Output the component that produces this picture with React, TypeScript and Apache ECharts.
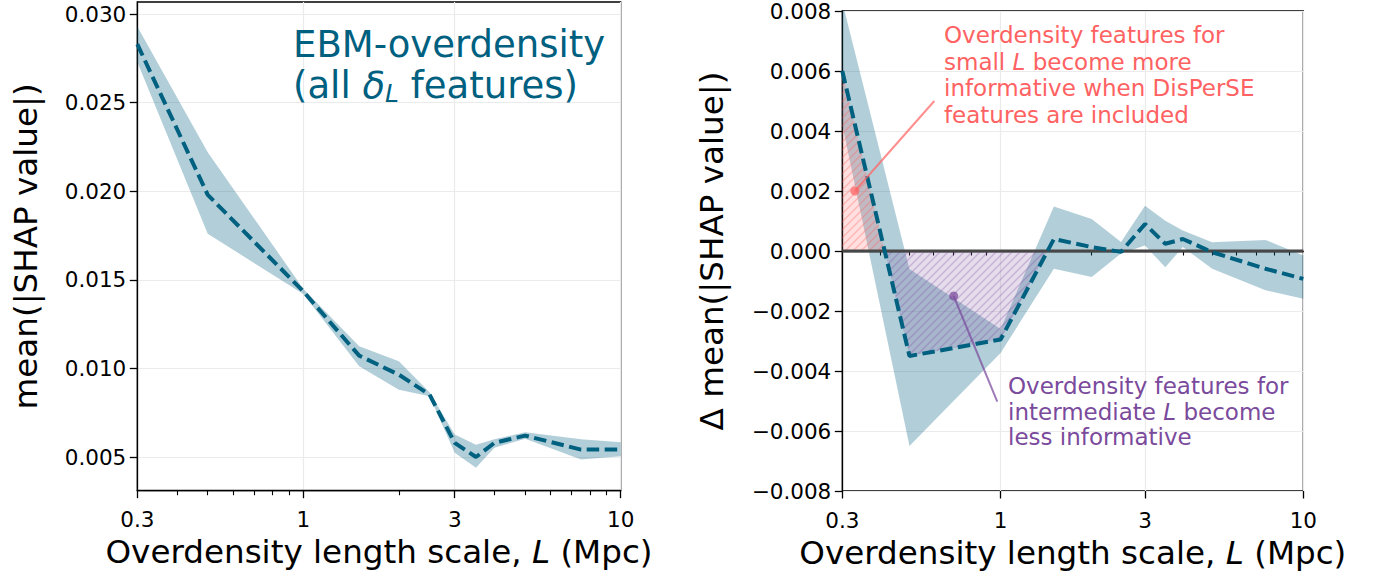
import React, { useEffect, useRef } from 'react';
import * as echarts from 'echarts';

// ---------- data ----------
const L = [0.3, 0.5, 1, 1.5, 2, 2.5, 3, 3.5, 4, 5, 7.5, 10];

const leftMean = [0.0283, 0.0198, 0.01435, 0.01072, 0.00965, 0.00852, 0.0058, 0.005, 0.0058, 0.00621, 0.00542, 0.00542];
const leftUpper = [0.0293, 0.0222, 0.0145, 0.01125, 0.0104, 0.00865, 0.00627, 0.0057, 0.006, 0.0064, 0.006, 0.00583];
const leftLower = [0.0273, 0.0176, 0.0142, 0.01012, 0.0088, 0.00843, 0.00524, 0.00439, 0.00552, 0.00603, 0.00486, 0.00505];

const rightMean = [0.006, -0.0035, -0.00295, 0.0004, 0.00013, -0.00003, 0.0009, 0.00024, 0.0004, -0.00004, -0.00059, -0.00093];
const rightUpper = [0.0083, -0.0006, -0.0026, 0.00148, 0.00107, 0.0003, 0.00151, 0.00101, 0.00068, 0.00029, 0.00037, -0.00015];
const rightLower = [0.0042, -0.0065, -0.0034, -0.00059, -0.00087, -0.00008, 0.00018, -0.00054, 0.00013, -0.00059, -0.00131, -0.00159];

const xMajorTicks = [0.3, 1, 3, 10];
const xMinorTicks = [0.4, 0.5, 0.6, 0.7, 0.8, 0.9, 2, 4, 5, 6, 7, 8, 9];
const yLeftTicks = [0.005, 0.01, 0.015, 0.02, 0.025, 0.03];
const yLeftRange = [0.0031, 0.03068];
const yRightRange = [-0.008, 0.008];
const yRightStep = 0.002;

// annotation connectors: [from (text side), to (dot)] in data coords
const redConnector = [[0.604, 0.005], [0.33, 0.002]];
const purpleConnector = [[0.975, -0.00502], [0.7, -0.0015]];

const leftTitle = 'EBM-overdensity\n(all {d|δ}{s|L} features)';
const redNote = 'Overdensity features for\nsmall {i|L} become more\ninformative when DisPerSE\nfeatures are included';
const purpleNote = 'Overdensity features for\nintermediate {i|L} become\nless informative';

// ---------- styles ----------
const FONT = 'DejaVu Sans';
const TEAL = '#006080';
const BAND = 'rgba(0,96,128,0.3)';
const RED = '#ff6262';
const PURPLE = '#7a4a9c';
const GRID_LINE = '#ebebeb';
const TICK_FS = 21.5;
const NAME_FS = 32.6;
const NOTE_FS = 23;
const TITLE_FS = 37;

function hatch(base: string, stripe: string): any {
  try {
    const c = document.createElement('canvas');
    c.width = 8;
    c.height = 8;
    const ctx = c.getContext('2d');
    if (!ctx) return base;
    ctx.fillStyle = base;
    ctx.fillRect(0, 0, 8, 8);
    ctx.strokeStyle = stripe;
    ctx.lineWidth = 1.4;
    ctx.beginPath();
    ctx.moveTo(-2, 10); ctx.lineTo(10, -2);
    ctx.moveTo(-6, 6); ctx.lineTo(6, -6);
    ctx.moveTo(2, 14); ctx.lineTo(14, 2);
    ctx.stroke();
    return { image: c.toDataURL(), repeat: 'repeat', imageWidth: 8, imageHeight: 8 };
  } catch (e) {
    return base;
  }
}

function signedPieces(xs: number[], ys: number[], positive: boolean): number[][][] {
  const pieces: number[][][] = [];
  let cur: number[][] | null = null;
  const ok = (v: number) => (positive ? v > 0 : v < 0);
  for (let i = 0; i < xs.length; i++) {
    const inside = ok(ys[i]);
    if (i > 0 && ok(ys[i - 1]) !== inside) {
      const t = ys[i - 1] / (ys[i - 1] - ys[i]);
      const lx = Math.log10(xs[i - 1]) + t * (Math.log10(xs[i]) - Math.log10(xs[i - 1]));
      const xc = Math.pow(10, lx);
      if (inside) {
        cur = [[xc, 0]];
      } else if (cur) {
        cur.push([xc, 0]);
        pieces.push(cur);
        cur = null;
      }
    }
    if (inside) {
      if (!cur) cur = [[xs[i], 0]];
      cur.push([xs[i], ys[i]]);
    }
  }
  if (cur) {
    cur.push([xs[xs.length - 1], 0]);
    pieces.push(cur);
  }
  return pieces;
}

function bandPoly(upper: number[], lower: number[]): number[][] {
  const top = L.map((x, i) => [x, upper[i]]);
  const bot = L.map((x, i) => [x, lower[i]]).reverse();
  return top.concat(bot);
}

function polySeries(xIdx: number, yIdx: number, anchorY: number, polys: number[][][], style: any, z: number) {
  return {
    type: 'custom',
    xAxisIndex: xIdx,
    yAxisIndex: yIdx,
    clip: true,
    silent: true,
    z,
    data: [[L[0], anchorY]],
    renderItem: (params: any, api: any) => ({
      type: 'group',
      children: polys.map((poly) => ({
        type: 'polygon',
        shape: { points: poly.map((p) => api.coord(p)) },
        style,
      })),
    }),
  };
}

function connectorSeries(xIdx: number, yIdx: number, conn: number[][], color: string) {
  return {
    type: 'custom',
    xAxisIndex: xIdx,
    yAxisIndex: yIdx,
    silent: true,
    z: 10,
    data: [conn[1]],
    renderItem: (params: any, api: any) => {
      const a = api.coord(conn[0]);
      const b = api.coord(conn[1]);
      return {
        type: 'group',
        children: [
          { type: 'line', shape: { x1: a[0], y1: a[1], x2: b[0], y2: b[1] }, style: { stroke: color, lineWidth: 2 } },
          { type: 'circle', shape: { cx: b[0], cy: b[1], r: 4.5 }, style: { fill: color } },
        ],
      };
    },
  };
}

const axisLineStyle = { color: '#000', width: 1.3 };
const tickText = { fontFamily: FONT, fontSize: TICK_FS, color: '#000' };
const nameText = {
  fontFamily: FONT,
  fontSize: NAME_FS,
  color: '#000',
  rich: { i: { fontFamily: FONT, fontSize: NAME_FS, fontStyle: 'italic', color: '#000' } },
};
const fmtX = (v: number) => String(+(+v).toPrecision(3));

function xAxesFor(grid: number) {
  return [
    {
      gridIndex: grid,
      type: 'log',
      logBase: 10,
      min: 0.3,
      max: 10,
      position: 'bottom',
      axisLine: { show: true, lineStyle: axisLineStyle },
      axisTick: { show: true, length: 4.5, lineStyle: { color: '#000', width: 1.1 }, customValues: xMinorTicks },
      axisLabel: { show: false },
      splitLine: { show: false },
      minorTick: { show: false },
    },
    {
      gridIndex: grid,
      type: 'log',
      logBase: 10,
      min: 0.3,
      max: 10,
      position: 'bottom',
      axisLine: { show: false },
      axisTick: { show: true, length: 7.5, lineStyle: { color: '#000', width: 1.3 }, customValues: xMajorTicks },
      axisLabel: { show: true, customValues: xMajorTicks, formatter: fmtX, margin: 18, ...tickText },
      splitLine: { show: true, lineStyle: { color: GRID_LINE, width: 1.2 } },
      minorTick: { show: false },
      name: 'Overdensity length scale, {i|L} (Mpc)',
      nameLocation: 'middle',
      nameGap: 45,
      nameTextStyle: nameText,
    },
  ];
}

export default function App() {
  const ref = useRef<HTMLDivElement>(null);
  useEffect(() => {
    if (!ref.current) return;
    const chart = echarts.init(ref.current, undefined, { renderer: 'svg' });

    const pinkPolys = signedPieces(L, rightMean, true).slice(0, 1);
    const purplePolys = signedPieces(L, rightMean, false).slice(0, 1);

    const option: any = {
      animation: false,
      backgroundColor: '#fff',
      textStyle: { fontFamily: FONT },
      grid: [
        { left: 137.3, top: 2, width: 483.4, height: 488.7, show: true, borderColor: '#000', borderWidth: 1.3, backgroundColor: 'transparent' },
        { left: 842.3, top: 10, width: 461, height: 481, show: true, borderColor: '#000', borderWidth: 1.3, backgroundColor: 'transparent' },
      ],
      xAxis: [...xAxesFor(0), ...xAxesFor(1)],
      yAxis: [
        {
          gridIndex: 0,
          type: 'value',
          min: yLeftRange[0],
          max: yLeftRange[1],
          position: 'left',
          axisLine: { show: true, lineStyle: axisLineStyle },
          axisTick: { show: true, length: 7.5, lineStyle: { color: '#000', width: 1.3 }, customValues: yLeftTicks },
          axisLabel: { customValues: yLeftTicks, formatter: (v: number) => (+v).toFixed(3), margin: 11, ...tickText },
          splitLine: { show: true, lineStyle: { color: GRID_LINE, width: 1.2 } },
          name: 'mean(|SHAP value|)',
          nameLocation: 'middle',
          nameGap: 95,
          nameTextStyle: nameText,
        },
        {
          gridIndex: 1,
          type: 'value',
          min: yRightRange[0],
          max: yRightRange[1],
          interval: yRightStep,
          position: 'left',
          axisLine: { show: true, lineStyle: axisLineStyle },
          axisTick: { show: true, length: 7.5, lineStyle: { color: '#000', width: 1.3 } },
          axisLabel: {
            formatter: (v: number) => (v < -1e-12 ? '\u2212' : '') + Math.abs(v).toFixed(3),
            margin: 11,
            ...tickText,
          },
          splitLine: { show: true, lineStyle: { color: GRID_LINE, width: 1.2 } },
          name: 'Δ mean(|SHAP value|)',
          nameLocation: 'middle',
          nameGap: 114,
          nameTextStyle: nameText,
        },
      ],
      series: [
        polySeries(1, 0, 0.01, [bandPoly(leftUpper, leftLower)], { fill: BAND }, 2),
        {
          type: 'line',
          xAxisIndex: 1,
          yAxisIndex: 0,
          data: L.map((x, i) => [x, leftMean[i]]),
          symbol: 'none',
          silent: true,
          z: 5,
          lineStyle: { color: TEAL, width: 4, type: [12.5, 5.5] },
        },
        polySeries(3, 1, 0, [bandPoly(rightUpper, rightLower)], { fill: BAND }, 2),
        polySeries(3, 1, 0, pinkPolys, { fill: hatch('rgba(255,98,98,0.2)', 'rgba(255,98,98,0.34)') }, 3),
        polySeries(3, 1, 0, purplePolys, { fill: hatch('rgba(122,74,156,0.19)', 'rgba(122,74,156,0.3)') }, 3),
        {
          type: 'line',
          xAxisIndex: 3,
          yAxisIndex: 1,
          data: [[0.3, 0], [10, 0]],
          symbol: 'none',
          silent: true,
          z: 4,
          lineStyle: { color: '#474747', width: 2.8 },
        },
        {
          type: 'line',
          xAxisIndex: 3,
          yAxisIndex: 1,
          data: L.map((x, i) => [x, rightMean[i]]),
          symbol: 'none',
          silent: true,
          z: 5,
          lineStyle: { color: TEAL, width: 4, type: [12.5, 5.5] },
        },
        connectorSeries(3, 1, redConnector, 'rgba(255,98,98,0.72)'),
        connectorSeries(3, 1, purpleConnector, 'rgba(122,74,156,0.72)'),
      ],
      graphic: [
        {
          type: 'text',
          left: 293,
          top: 24,
          z: 20,
          style: {
            text: leftTitle,
            fontFamily: FONT,
            fontSize: TITLE_FS,
            lineHeight: 41,
            fill: TEAL,
            rich: {
              d: { fontFamily: FONT, fontSize: TITLE_FS, fontStyle: 'italic', fill: TEAL, lineHeight: 41 },
              s: { fontFamily: FONT, fontSize: 25, fontStyle: 'italic', fill: TEAL, lineHeight: 15, verticalAlign: 'bottom' },
            },
          },
        },
        {
          type: 'text',
          left: 944,
          top: 22,
          z: 20,
          style: {
            text: redNote,
            fontFamily: FONT,
            fontSize: NOTE_FS,
            lineHeight: 26.5,
            fill: RED,
            rich: { i: { fontFamily: FONT, fontSize: NOTE_FS, fontStyle: 'italic', fill: RED, lineHeight: 26.5 } },
          },
        },
        {
          type: 'text',
          left: 1008,
          top: 373,
          z: 20,
          style: {
            text: purpleNote,
            fontFamily: FONT,
            fontSize: NOTE_FS,
            lineHeight: 25.7,
            fill: PURPLE,
            rich: { i: { fontFamily: FONT, fontSize: NOTE_FS, fontStyle: 'italic', fill: PURPLE, lineHeight: 25.7 } },
          },
        },
      ],
    };
    chart.setOption(option);
    return () => chart.dispose();
  }, []);
  return (
    <div
      ref={ref}
      style={{ position: 'fixed', left: 0, top: 0, width: 1376, height: 575, background: '#fff' }}
    />
  );
}
